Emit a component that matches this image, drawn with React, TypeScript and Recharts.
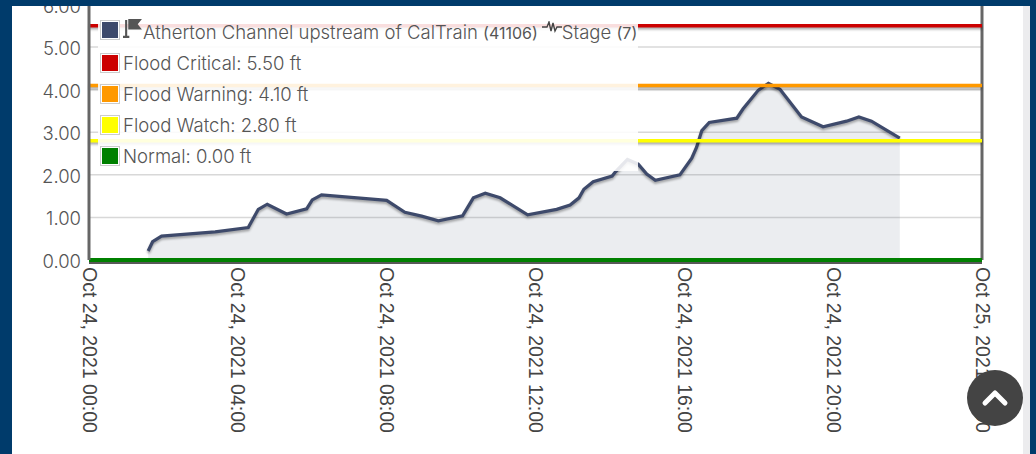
import React from "react";
import { ComposedChart, Area, XAxis, YAxis, CartesianGrid, ReferenceLine } from "recharts";

const hours = [1.59,1.71,1.95,3.39,4.28,4.55,4.79,5.31,5.85,6.0,6.25,8.0,8.49,8.94,9.39,10.04,10.33,10.65,11.05,11.79,12.57,12.93,13.17,13.3,13.55,14.06,14.15,14.47,14.76,14.99,15.22,15.88,16.2,16.33,16.47,16.67,17.41,17.58,17.99,18.26,18.57,19.15,19.73,20.36,20.69,21.03,21.79];
const stage = [0.21,0.43,0.56,0.66,0.76,1.19,1.31,1.08,1.2,1.41,1.53,1.4,1.12,1.03,0.92,1.04,1.46,1.57,1.46,1.06,1.19,1.29,1.46,1.66,1.84,1.97,2.07,2.36,2.25,2.02,1.87,2.0,2.39,2.65,3.04,3.23,3.33,3.55,3.99,4.15,4.01,3.36,3.13,3.26,3.36,3.26,2.86];
const xTicks = [0,4,8,12,16,20,24];
const xLabels = ["Oct 24, 2021 00:00","Oct 24, 2021 04:00","Oct 24, 2021 08:00","Oct 24, 2021 12:00","Oct 24, 2021 16:00","Oct 24, 2021 20:00","Oct 25, 2021 00:00"];
const yTicks = [0,1,2,3,4,5,6];
const thresholdNames = ["Flood Critical","Flood Warning","Flood Watch","Normal"];
const thresholdValues = [5.5,4.1,2.8,0];
const thresholdColors = ["#cc0000","#ff9900","#ffff00","#008000"];
const seriesColor = "#3e4a6b";
const siteName = "Atherton Channel upstream of CalTrain";
const siteCode = "(41106)";
const seriesName = "Stage";
const seriesCode = "(7)";

const rows = hours.map((h, i) => ({ h, stage: stage[i] }));
const UI = "Inter, Roboto, sans-serif";
const NAVY = "#003b6b";

const XTick = (p: any) => {
  const i = xTicks.indexOf(p.payload.value);
  return (
    <text transform={`translate(${p.x - 6.5},267) rotate(90)`} fontFamily="'Liberation Sans', Arial" fontSize={19.5} fill="#444" textAnchor="start">
      {xLabels[i]}
    </text>
  );
};
const YTick = (p: any) => (
  <text x={81} y={p.y + 8} textAnchor="end" fontFamily={UI} fontSize={18.5} fontWeight={300} fill="#555">
    {p.payload.value.toFixed(2)}
  </text>
);

const Swatch = ({ color }: { color: string }) => (
  <span style={{ width: 16, height: 16, background: color, border: "1px solid #fff", outline: "1px solid #ccc", display: "inline-block", flex: "none", marginRight: 4 }} />
);

const Overlay = () => (
  <div style={{ position: "absolute", left: 98, top: 18, width: 540, height: 153, background: "rgba(255,255,255,0.87)", fontFamily: UI, fontSize: 18.55, fontWeight: 300, color: "#555", whiteSpace: "nowrap" }}>
    <div style={{ position: "absolute", left: 3, top: 3, height: 18, display: "flex", alignItems: "center" }}>
      <Swatch color={seriesColor} />
      <svg width={20} height={20} viewBox="0 0 19 19" style={{ flex: "none", marginTop: -2 }}>
        <path d="M2 1h2v15h2v2H0v-2h2z M5 0l13 0-4 5 4 5-13 0z" fill="#555" />
      </svg>
      <span style={{ marginTop: 3 }}>{siteName} <span style={{ fontSize: 16, fontWeight: 400 }}>{siteCode}</span></span>
      <svg width={20} height={12} viewBox="0 0 20 12" style={{ flex: "none", marginLeft: 4, marginTop: -6 }}>
        <path d="M0 6h5l2-5 2 9 2-8 2 8 2-4h5" fill="none" stroke="#444" strokeWidth={1.4} />
      </svg>
      <span style={{ marginTop: 3 }}>{seriesName} <span style={{ fontSize: 16, fontWeight: 400 }}>{seriesCode}</span></span>
    </div>
    {thresholdNames.map((n, i) => (
      <div key={n} style={{ position: "absolute", left: 3, top: 36 + i * 31, height: 18, display: "flex", alignItems: "center" }}>
        <Swatch color={thresholdColors[i]} />
        <span>{`${n}: ${thresholdValues[i].toFixed(2)} ft`}</span>
      </div>
    ))}
  </div>
);

const lineShadow = { filter: "drop-shadow(0px 2px 1px rgba(0,0,0,0.32))" };
const baseShadow = { filter: "drop-shadow(0px 2px 0.5px rgba(70,70,70,0.9))" };

export default function App() {
  return (
    <div style={{ position: "fixed", left: 0, top: 0, width: 1036, height: 454, background: "#fff", overflow: "hidden" }}>
      <ComposedChart width={1036} height={454} data={rows} margin={{ top: 4.5, left: 0, right: 54, bottom: 0 }} style={{ position: "absolute", left: 0, top: 0 }}>
        <CartesianGrid horizontal vertical={false} stroke="#d8d8d8" strokeWidth={1.5} />
        <XAxis dataKey="h" type="number" domain={[0, 24]} ticks={xTicks} height={194} interval={0} tick={XTick} tickLine={false} axisLine={false} />
        <YAxis type="number" domain={[0, 6]} ticks={yTicks} width={89} interval={0} tick={YTick} tickLine={false} axisLine={{ stroke: "#666", strokeWidth: 3 }} />
        <Area dataKey="stage" type="linear" stroke="none" fill={seriesColor} fillOpacity={0.1} isAnimationActive={false} dot={false} activeDot={false} />
        <Area dataKey="stage" type="linear" stroke={seriesColor} strokeWidth={3.2} fill="none" isAnimationActive={false} dot={false} activeDot={false} style={lineShadow} />
        <ReferenceLine x={24} stroke="#666" strokeWidth={3} />
        {thresholdValues.map((v, i) => (
          <ReferenceLine key={v} y={v} stroke={thresholdColors[i]} strokeWidth={i === 3 ? 4 : 3.5} style={i === 3 ? baseShadow : lineShadow} />
        ))}
      </ComposedChart>
      <Overlay />
      <div style={{ position: "absolute", left: 0, top: 0, width: 12, height: 454, background: NAVY }} />
      <div style={{ position: "absolute", left: 0, top: 0, width: 1036, height: 6, background: NAVY }} />
      <div style={{ position: "absolute", left: 1023, top: 6, width: 7, height: 448, background: "#ececee" }} />
      <div style={{ position: "absolute", left: 1030, top: 0, width: 6, height: 454, background: NAVY }} />
      <svg style={{ position: "absolute", left: 967, top: 370 }} width={56} height={56} viewBox="0 0 56 56">
        <circle cx={28} cy={28} r={28} fill="#444" />
        <path d="M18 33 L28 23 L38 33" fill="none" stroke="#fff" strokeWidth={5} strokeLinecap="round" strokeLinejoin="round" />
      </svg>
    </div>
  );
}
